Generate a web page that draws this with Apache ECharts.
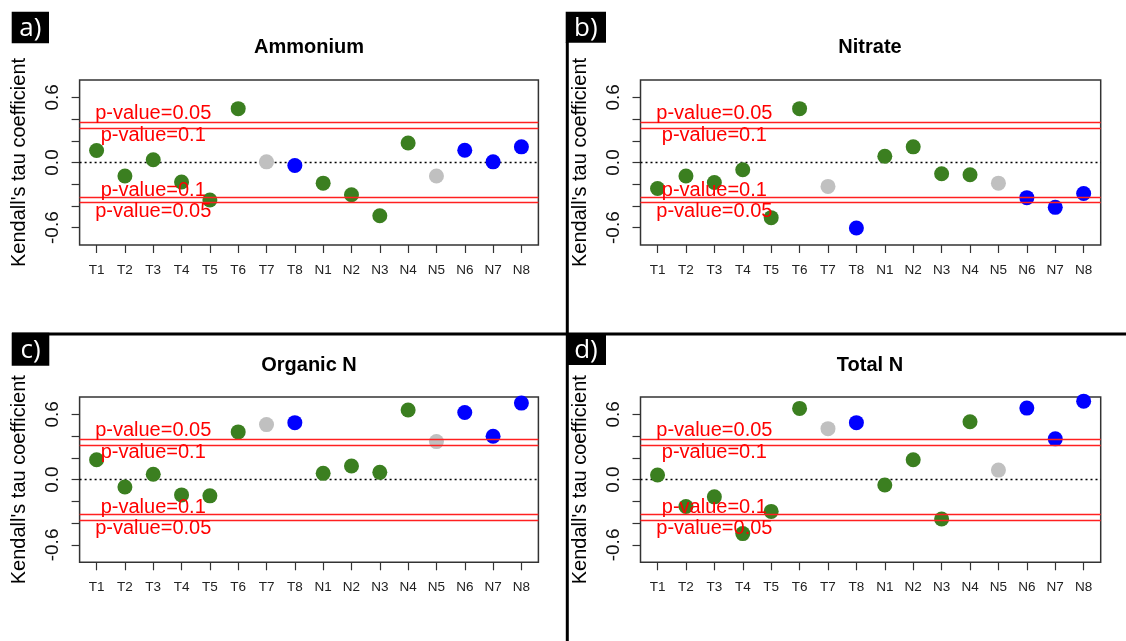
<!DOCTYPE html>
<html>
<head>
<meta charset="utf-8">
<script src="https://cdn.jsdelivr.net/npm/echarts@6/dist/echarts.min.js"></script>
<style>html,body{margin:0;padding:0;background:#fff}#c{width:1126px;height:641px}</style>
</head>
<body>
<div id="c"></div>
<script>
// ---- data ----
const categories = ['T1','T2','T3','T4','T5','T6','T7','T8','N1','N2','N3','N4','N5','N6','N7','N8'];
// colour group for each category: g = green, s = grey, b = blue
const groups = ['g','g','g','g','g','g','s','b','g','g','g','g','s','b','b','b'];
const ammonium = [0.11,-0.125,0.025,-0.18,-0.345,0.496,0.006,-0.028,-0.19,-0.297,-0.49,0.18,-0.125,0.113,0.006,0.144];
const nitrate  = [-0.239,-0.125,-0.184,-0.067,-0.508,0.496,-0.22,-0.603,0.058,0.144,-0.104,-0.113,-0.19,-0.324,-0.413,-0.285];
const organicN = [0.183,-0.067,0.049,-0.14,-0.149,0.439,0.506,0.524,0.058,0.125,0.067,0.64,0.35,0.618,0.399,0.704];
const totalN   = [0.043,-0.247,-0.158,-0.496,-0.292,0.655,0.469,0.524,-0.049,0.183,-0.362,0.533,0.088,0.658,0.375,0.722];
const panelTitles = ['Ammonium','Nitrate','Organic N','Total N'];
const panelLetters = ['a)','b)','c)','d)'];
const yTickValues = [-0.6,-0.4,-0.2,0,0.2,0.4,0.6];
const yLabelValues = [-0.6,0,0.6];
const pLineValues = [0.37,0.32,-0.32,-0.37];
const pTextY = [0.45,0.25,-0.26,-0.45];
const pTextLabels = ['p-value=0.05','p-value=0.1','p-value=0.1','p-value=0.05'];
const pTextX = 3;
const yTitle = "Kendall's tau coefficient";

// ---- layout / style ----
const colorMap = {g:'#3b7f20', s:'#c0c0c0', b:'#0000ff'};
const panelValues = [ammonium, nitrate, organicN, totalN];
const grids = [
  {left:79.6, top:80, width:458.8, height:165},
  {left:640.5, top:80, width:460.2, height:165},
  {left:79.6, top:397, width:458.8, height:165.3},
  {left:640.5, top:397, width:460.2, height:165.3}
];
const FONT = '"Liberation Sans", Arial, sans-serif';

const option = {
  animation:false,
  backgroundColor:'#ffffff',
  grid: grids.map(g => Object.assign({show:true, borderColor:'#333', borderWidth:1.5, backgroundColor:'transparent', containLabel:false}, g)),
  xAxis: grids.map((g,i) => ({
    type:'value', gridIndex:i, min:0.4, max:16.6,
    axisLine:{show:false, onZero:false}, splitLine:{show:false},
    axisTick:{show:true, length:8, inside:false, customValues:categories.map((c,k)=>k+1), lineStyle:{color:'#333', width:1.2}},
    axisLabel:{show:true, customValues:categories.map((c,k)=>k+1), formatter:v=>categories[Math.round(v)-1] || '', margin:18, fontSize:13.5, color:'#222', fontFamily:FONT}
  })),
  yAxis: grids.map((g,i) => ({
    type:'value', gridIndex:i, min:-0.76, max:0.76,
    axisLine:{show:false, onZero:false}, splitLine:{show:false},
    axisTick:{show:true, length:8, customValues:yTickValues, lineStyle:{color:'#333', width:1.2}},
    axisLabel:{show:true, customValues:yLabelValues, formatter:v=>v.toFixed(1), rotate:90, margin:17, fontSize:19, color:'#111', fontFamily:FONT},
    name:yTitle, nameLocation:'middle', nameRotate:90, nameGap:50,
    nameTextStyle:{fontSize:20, color:'#000', fontFamily:FONT}
  })),
  series: [],
  graphic: []
};

panelValues.forEach((vals,i) => {
  // points
  option.series.push({
    type:'scatter', xAxisIndex:i, yAxisIndex:i, z:3,
    symbol:'circle', symbolSize:15,
    itemStyle:{opacity:1},
    data: vals.map((v,k) => ({value:[k+1, v], itemStyle:{color:colorMap[groups[k]], opacity:1}})),
    markLine:{
      silent:true, symbol:['none','none'], z:2,
      label:{show:false},
      lineStyle:{color:'#000', type:[2,3], width:1.3, opacity:1},
      data:[{yAxis:0}]
    }
  });
  // p-value lines and labels
  option.series.push({
    type:'scatter', xAxisIndex:i, yAxisIndex:i, z:5,
    symbolSize:1, itemStyle:{color:'rgba(0,0,0,0)', opacity:1},
    data: pTextY.map((y,k) => [pTextX, y, pTextLabels[k]]),
    label:{show:true, position:'inside', formatter:p=>p.value[2], color:'#ff0000', opacity:1, fontSize:20, fontFamily:FONT},
    markLine:{
      silent:true, symbol:['none','none'], z:4,
      label:{show:false},
      lineStyle:{color:'#ff2020', type:'solid', width:1.3, opacity:1},
      data: pLineValues.map(v => ({yAxis:v}))
    }
  });
});

// titles
const titlePos = [[309,47],[870,47],[309,365],[870,365]];
titlePos.forEach((p,i) => {
  option.graphic.push({type:'text', x:p[0], y:p[1], z:10,
    style:{text:panelTitles[i], fill:'#000', font:'bold 20px ' + FONT, textAlign:'center', textVerticalAlign:'middle'}});
});

// divider lines
option.graphic.push({type:'line', z:9, shape:{x1:12, y1:334, x2:1126, y2:334}, style:{stroke:'#000', lineWidth:3}});
option.graphic.push({type:'line', z:9, shape:{x1:567.3, y1:42, x2:567.3, y2:641}, style:{stroke:'#000', lineWidth:3}});

// panel letters
const letterBoxes = [[11.7,11.7,37.3,31.6],[565.7,11.7,40.3,31],[11.7,332.7,37.6,33],[566,334,40,31]];
letterBoxes.forEach((b,i) => {
  option.graphic.push({type:'rect', z:11, shape:{x:b[0], y:b[1], width:b[2], height:b[3]}, style:{fill:'#000'}});
  option.graphic.push({type:'text', z:12, x:b[0]+b[2]/2, y:b[1]+b[3]/2+1,
    style:{text:panelLetters[i], fill:'#fff', font:'26px "Open Sans", "DejaVu Sans", sans-serif', textAlign:'center', textVerticalAlign:'middle'}});
});

const chart = echarts.init(document.getElementById('c'), null, {renderer:'canvas'});
chart.setOption(option);
</script>
</body>
</html>
